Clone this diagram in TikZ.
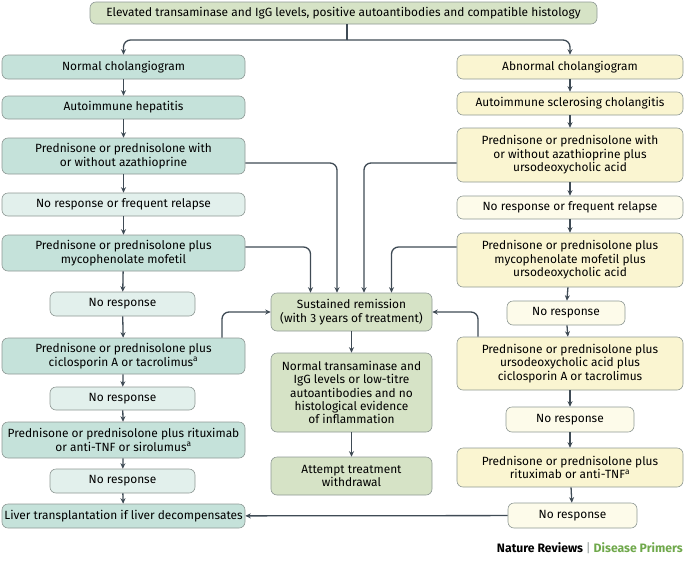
\documentclass[tikz,border=0pt]{standalone}
\usepackage{fontspec}
\setmainfont{Fira Sans}
\usetikzlibrary{arrows.meta}
\definecolor{tealbox}{HTML}{C5E2DA}
\definecolor{tealpale}{HTML}{E2F0EC}
\definecolor{greenbox}{HTML}{D6E3C6}
\definecolor{yellowbox}{HTML}{FAF5D1}
\definecolor{yellowpale}{HTML}{FDFBEA}
\definecolor{boxline}{HTML}{8E9894}
\definecolor{arrowline}{HTML}{3F4B55}
\definecolor{primers}{HTML}{6FA84B}
\begin{document}
\begin{tikzpicture}[x=1pt, y=-1pt,
  every node/.style={font=\fontsize{11.9}{13.4}\selectfont, align=center, inner sep=1pt},
  box/.style={draw=boxline, rounded corners=6pt, line width=0.6pt},
  teal/.style={box, fill=tealbox, minimum width=243pt},
  tealnr/.style={box, fill=tealpale},
  mid/.style={box, fill=greenbox, minimum width=161pt},
  yel/.style={box, fill=yellowbox, minimum width=226pt},
  yelnr/.style={box, fill=yellowpale},
  arr/.style={-{Stealth[length=5.5pt,width=5pt]}, draw=arrowline, line width=1.3pt},
  link/.style={arr, rounded corners=7pt}]
\useasboundingbox (0,0) rectangle (685,565);
% top
\node[box, fill=greenbox, minimum width=507pt, minimum height=22pt] (top) at (343.5,13) {Elevated transaminase and IgG levels, positive autoantibodies and compatible histology};
% left column
\node[teal, minimum height=24pt] (lnorm) at (123.5,67) {Normal cholangiogram};
\node[teal, minimum height=23pt] (lahep) at (123.5,107.5) {Autoimmune hepatitis};
\node[teal, minimum height=36pt] (laza) at (123.5,156) {Prednisone or prednisolone with\\or without azathioprine};
\node[tealnr, minimum width=243pt, minimum height=23pt] (lnr1) at (123.5,204.5) {No response or frequent relapse};
\node[teal, minimum height=36pt] (lmyco) at (123.5,253) {Prednisone or prednisolone plus\\mycophenolate mofetil};
\node[tealnr, minimum width=145pt, minimum height=24pt] (lnr2) at (122.5,304) {No response};
\node[teal, minimum height=36pt] (lcic) at (123.5,356) {Prednisone or prednisolone plus\\ciclosporin A or tacrolimus\textsuperscript{a}};
\node[tealnr, minimum width=145pt, minimum height=23pt] (lnr3) at (122.5,398.5) {No response};
\node[teal, minimum height=36pt] (lrit) at (123.5,440) {Prednisone or prednisolone plus rituximab\\or anti-TNF or sirolumus\textsuperscript{a}};
\node[tealnr, minimum width=145pt, minimum height=24pt] (lnr4) at (122.5,481) {No response};
\node[teal, minimum height=24pt] (lliver) at (123.5,516) {Liver transplantation if liver decompensates};
% middle column
\node[mid, minimum height=38pt] (remis) at (351.5,312) {Sustained remission\\(with 3 years of treatment)};
\node[mid, minimum height=79pt] (normal) at (351.5,392.5) {Normal transaminase and\\IgG levels or low-titre\\autoantibodies and no\\histological evidence\\of inflammation};
\node[mid, minimum height=38pt] (attempt) at (351.5,476) {Attempt treatment\\withdrawal};
% right column
\node[yel, minimum height=24pt] (rabn) at (570,67) {Abnormal cholangiogram};
\node[yel, minimum height=23pt] (rasc) at (570,103.5) {Autoimmune sclerosing cholangitis};
\node[yel, minimum height=54pt] (raza) at (570,155) {Prednisone or prednisolone with\\or without azathioprine plus\\ursodeoxycholic acid};
\node[yelnr, minimum width=226pt, minimum height=23pt] (rnr1) at (570,207.5) {No response or frequent relapse};
\node[yel, minimum height=54pt] (rmyco) at (570,260) {Prednisone or prednisolone plus\\mycophenolate mofetil plus\\ursodeoxycholic acid};
\node[yelnr, minimum width=118pt, minimum height=24pt] (rnr2) at (566,313) {No response};
\node[yel, minimum height=53pt] (rcic) at (570,363.5) {Prednisone or prednisolone plus\\ursodeoxycholic acid plus\\ciclosporin A or tacrolimus};
\node[yelnr, minimum width=128pt, minimum height=25pt] (rnr3) at (570,419.5) {No response};
\node[yel, minimum height=39pt] (rrit) at (570,467.5) {Prednisone or prednisolone plus\\rituximab or anti-TNF\textsuperscript{a}};
\node[yelnr, minimum width=129pt, minimum height=25pt] (rnr4) at (572.5,515.5) {No response};
% credit
\node[anchor=east, font=\fontsize{12.2}{13}\selectfont\bfseries] (credit) at (684,548) {Nature Reviews \textcolor{boxline}{\textmd{|}} \textcolor{primers}{Disease Primers}};
% split
\coordinate (split) at (347,40);
\draw[draw=arrowline, line width=1.3pt] (top.south -| split) -- (split);
\draw[link] (split) -| (lnorm.north);
\draw[link] (split) -| (rabn.north);
% columns
\path [arr] (lnorm) edge (lahep);
\path [arr] (lahep) edge (laza);
\path [arr] (laza) edge (lnr1);
\path [arr] (lnr1) edge (lmyco);
\path [arr] (lmyco) edge (lnr2);
\path [arr] (lnr2) edge (lcic);
\path [arr] (lcic) edge (lnr3);
\path [arr] (lnr3) edge (lrit);
\path [arr] (lrit) edge (lnr4);
\path [arr] (lnr4) edge (lliver);
\path [arr] (rabn) edge (rasc);
\path [arr] (rasc) edge (raza);
\path [arr] (raza) edge (rnr1);
\path [arr] (rnr1) edge (rmyco);
\path [arr] (rmyco) edge (rnr2);
\path [arr] (rnr2) edge (rcic);
\path [arr] (rcic) edge (rnr3);
\path [arr] (rnr3) edge (rrit);
\path [arr] (rrit) edge (rnr4);
\path [arr] (remis) edge (normal);
\path [arr] (normal) edge (attempt);
% into remission
\draw[link] ([yshift=-7pt]laza.east) -| ([xshift=-14.5pt]remis.north);
\draw[link] ([yshift=6pt]lmyco.east) -| ([xshift=-41pt]remis.north);
\draw[link] ([yshift=-8pt]raza.west) -| ([xshift=12.5pt]remis.north);
\draw[link] ([yshift=13pt]rmyco.west) -| ([xshift=40pt]remis.north);
\draw[link] ([xshift=98.5pt]lcic.north) |- (remis.west);
\draw[link] ([xshift=-92pt]rcic.north) |- (remis.east);
% transplantation
\path [arr] (rnr4) edge (lliver);
\end{tikzpicture}
\end{document}
